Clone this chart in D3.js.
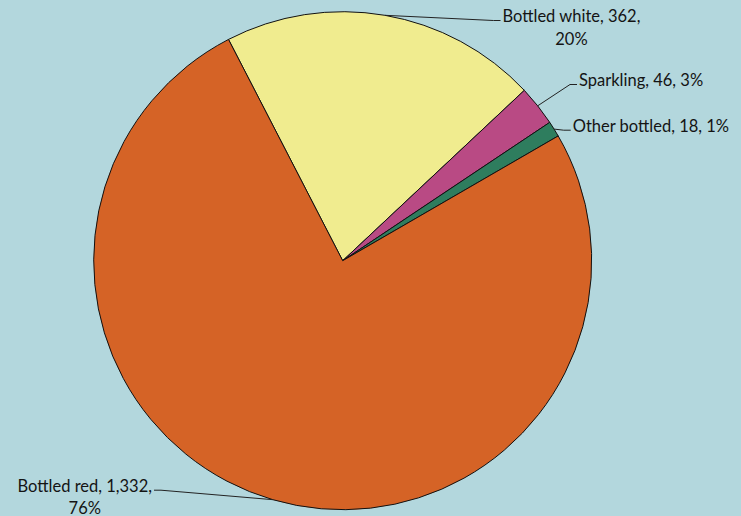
<!DOCTYPE html>
<html>
<head>
<meta charset="utf-8">
<script src="https://cdn.jsdelivr.net/npm/d3@7"></script>
<style>
  html, body { margin: 0; padding: 0; background: #b3d7dd; }
  svg { display: block; }
  text { font-family: Lato, "Noto Sans", sans-serif; font-size: 16.5px; fill: #141414; }
</style>
</head>
<body>
<svg id="chart" width="741" height="516"></svg>
<script>
// Wine sales by type
const categories = ["Bottled white", "Sparkling", "Other bottled", "Bottled red"];
const values = [362, 46, 18, 1332];
const percents = [20, 3, 1, 76];
const colors = ["#f0ec8f", "#b94a84", "#2e7d5e", "#d56326"];

// Layout
const W = 741, H = 516;
const cx = 342.7, cy = 260.7, R = 249;
const startDeg = -27.3;

// Label placement relative to the pie centre: anchor point of the first text line
// and its alignment; wrapped labels put the percentage on a centred second line.
const labelLayout = [
  { dx: 159.8, dy: -238.7, anchor: "start", wrap: true },
  { dx: 236.3, dy: -174.7, anchor: "start", wrap: false },
  { dx: 230.0, dy: -129.0, anchor: "start", wrap: false },
  { dx: -190.7, dy: 231.0, anchor: "end", wrap: true }
];

const svg = d3.select("#chart");
const g = svg.append("g").attr("transform", `translate(${cx},${cy})`);

const pie = d3.pie()
  .sort(null)
  .value(d => d.value)
  .startAngle(startDeg * Math.PI / 180)
  .endAngle(startDeg * Math.PI / 180 + 2 * Math.PI);

const data = categories.map((c, i) => ({ name: c, value: values[i], pct: percents[i], color: colors[i], i }));
const arcs = pie(data);

const arc = d3.arc().innerRadius(0).outerRadius(R);

g.selectAll("path.slice")
  .data(arcs)
  .join("path")
  .attr("class", "slice")
  .attr("d", arc)
  .attr("fill", d => d.data.color)
  .attr("stroke", "#111")
  .attr("stroke-width", 1)
  .attr("stroke-linejoin", "round");

const fmt = d3.format(",");

arcs.forEach((a, i) => {
  const L = labelLayout[i];
  const mid = (a.startAngle + a.endAngle) / 2;
  const px = R * Math.sin(mid), py = -R * Math.cos(mid);

  const full = `${a.data.name}, ${fmt(a.data.value)}, ${a.data.pct}%`;
  const text = g.append("text")
    .attr("x", L.dx).attr("y", L.dy)
    .attr("text-anchor", L.anchor);

  if (L.wrap) {
    const line1 = `${a.data.name}, ${fmt(a.data.value)},`;
    const line2 = `${a.data.pct}%`;
    const t1 = text.append("tspan").attr("x", L.dx).attr("y", L.dy).text(line1);
    const w = t1.node().getComputedTextLength();
    const centre = L.anchor === "start" ? L.dx + w / 2 : L.dx - w / 2;
    g.append("text")
      .attr("x", centre).attr("y", L.dy + 22.5)
      .attr("text-anchor", "middle")
      .text(line2);
  } else {
    text.text(full);
  }

  // Connector: from slice edge to an elbow, then a short horizontal run to the label
  const dir = L.anchor === "start" ? 1 : -1;
  const endX = L.dx - dir * 2;
  const endY = L.dy - 1.5;
  const elbowX = endX - dir * 7;
  g.append("path")
    .attr("d", `M${px},${py}L${elbowX},${endY}L${endX},${endY}`)
    .attr("fill", "none")
    .attr("stroke", "#222")
    .attr("stroke-width", 1);
});
</script>
</body>
</html>
